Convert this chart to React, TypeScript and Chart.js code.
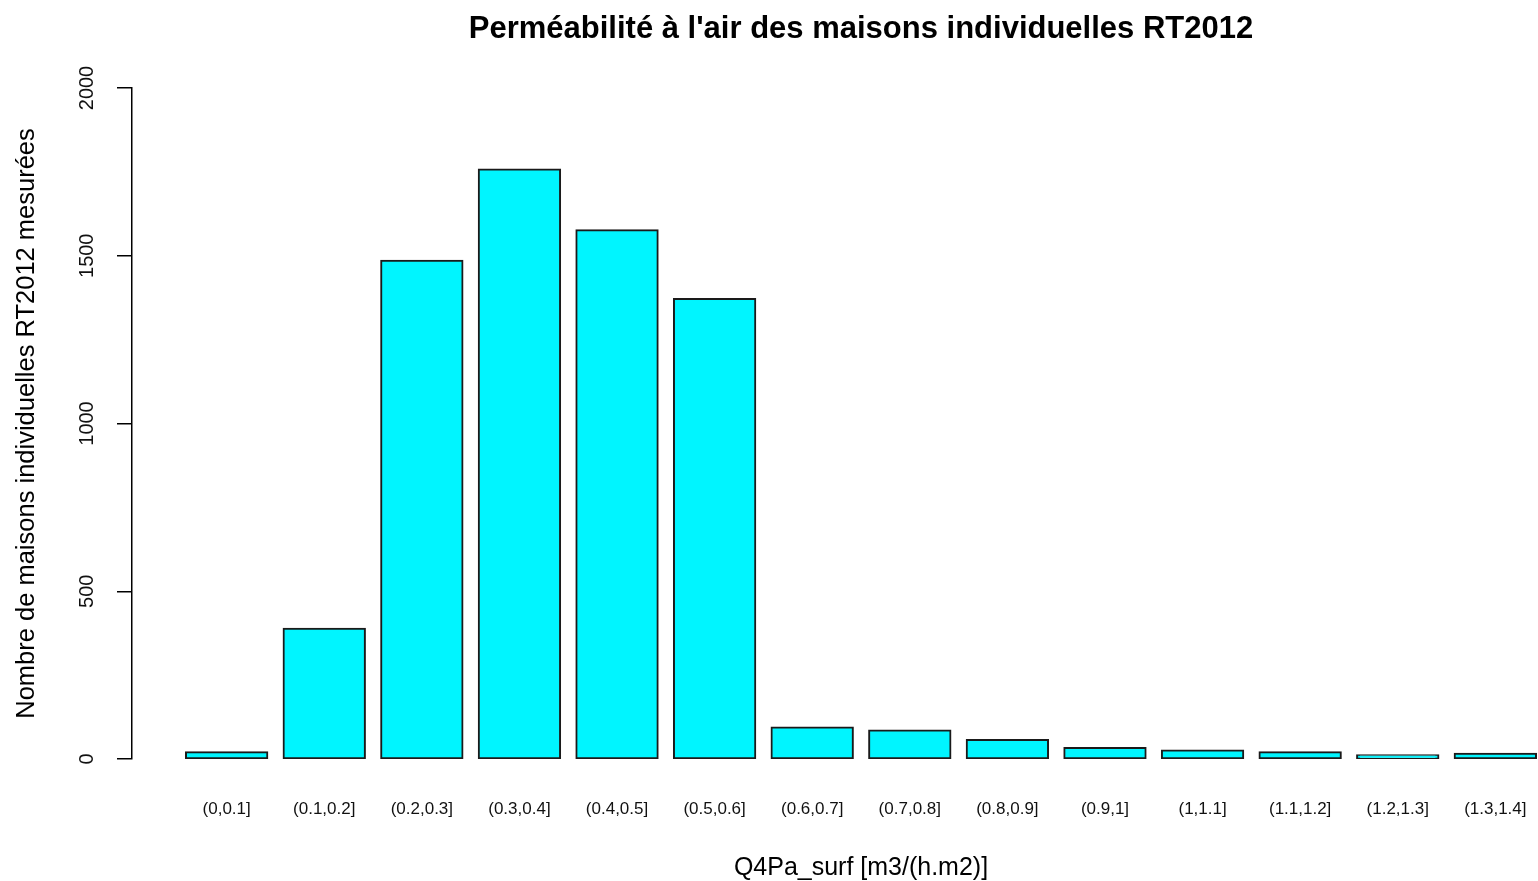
import React, { useEffect, useRef } from "react";
import { Chart, registerables } from "chart.js";

Chart.register(...registerables);

const categories = [
  "(0,0.1]", "(0.1,0.2]", "(0.2,0.3]", "(0.3,0.4]", "(0.4,0.5]", "(0.5,0.6]", "(0.6,0.7]",
  "(0.7,0.8]", "(0.8,0.9]", "(0.9,1]", "(1,1.1]", "(1.1,1.2]", "(1.2,1.3]", "(1.3,1.4]",
];
const counts = [20, 388, 1485, 1757, 1576, 1371, 94, 85, 57, 33, 25, 20, 11, 16];
const yTicks = [0, 500, 1000, 1500, 2000];
const chartTitle = "Perméabilité à l'air des maisons individuelles RT2012";
const xTitle = "Q4Pa_surf [m3/(h.m2)]";
const yTitle = "Nombre de maisons individuelles RT2012 mesurées";

const FONT = "'Liberation Sans', Arial, Helvetica, sans-serif";
const CANVAS_W = 1722;
const CANVAS_H = 881;

export default function App() {
  const ref = useRef<HTMLCanvasElement | null>(null);

  useEffect(() => {
    if (!ref.current) return;
    const chart = new Chart(ref.current, {
      type: "bar",
      data: {
        datasets: [
          {
            data: counts.map((v, i) => ({ x: i, y: v })),
            backgroundColor: "#00F5FF",
            borderColor: "#1a1a1a",
            borderWidth: 2,
            borderSkipped: false,
            inflateAmount: 1,
            categoryPercentage: 1,
            barPercentage: 1 / 1.2,
          },
        ],
      },
      options: {
        responsive: false,
        animation: false,
        layout: { padding: 0 },
        plugins: {
          legend: { display: false },
          tooltip: { enabled: false },
          title: {
            display: true,
            text: chartTitle,
            color: "#000",
            font: { family: FONT, size: 31, weight: "bold" },
            padding: { top: 11, bottom: 39.8 },
          },
        },
        scales: {
          x: {
            type: "linear",
            offset: false,
            min: -0.97,
            max: 13.97,
            grid: { display: false, drawTicks: false, offset: false },
            border: { display: false },
            afterBuildTicks: (scale: any) => {
              scale.ticks = categories.map((_, i) => ({ value: i }));
            },
            afterFit: (scale: any) => {
              scale.height = 122;
            },
            ticks: {
              autoSkip: false,
              maxRotation: 0,
              minRotation: 0,
              padding: 40,
              color: "#111",
              font: { family: FONT, size: 17 },
              callback: (v: any) => categories[Math.round(Number(v))] ?? "",
            },
            title: {
              display: true,
              text: xTitle,
              color: "#000",
              font: { family: FONT, size: 25 },
              padding: { top: 0, bottom: -2 },
            },
          },
          y: {
            position: "left",
            min: 0,
            max: 2000,
            afterBuildTicks: (scale: any) => {
              scale.ticks = yTicks.map((v) => ({ value: v }));
            },
            afterFit: (scale: any) => {
              scale.width = 132;
            },
            grid: {
              drawOnChartArea: false,
              drawTicks: true,
              tickLength: 15,
              color: "#000",
              lineWidth: 1.5,
            },
            border: { display: true, color: "#000", width: 1.5 },
            ticks: {
              minRotation: 90,
              maxRotation: 90,
              crossAlign: "center",
              padding: 7,
              color: "#111",
              font: { family: FONT, size: 20 },
              callback: (v: any) => String(v),
            },
            title: {
              display: true,
              text: yTitle,
              color: "#000",
              font: { family: FONT, size: 25.5 },
              padding: { top: 11.7, bottom: 0 },
            },
          },
          yRight: {
            position: "right",
            display: true,
            grid: { display: false, drawTicks: false },
            border: { display: false },
            ticks: { display: false },
            afterFit: (scale: any) => {
              scale.width = 132;
            },
          },
        },
      } as any,
    });
    return () => chart.destroy();
  }, []);

  return (
    <div
      style={{
        position: "fixed",
        left: 0,
        top: 0,
        width: 1538,
        height: 881,
        overflow: "hidden",
        background: "#fff",
      }}
    >
      <canvas ref={ref} width={CANVAS_W} height={CANVAS_H} style={{ display: "block" }} />
    </div>
  );
}
